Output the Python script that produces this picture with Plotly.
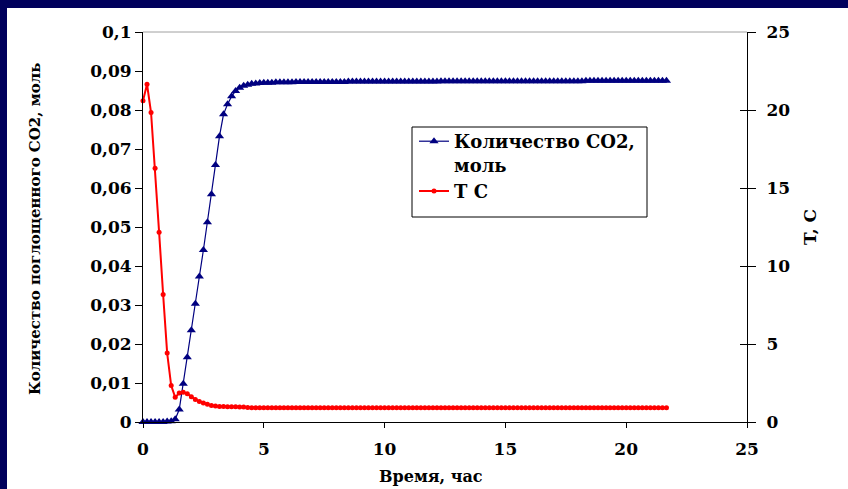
import plotly.graph_objects as go

# Sampling every 10 minutes, hours from start
step_minutes = 10
n_points = 131
time_h = [k * step_minutes / 60 for k in range(n_points)]

# Absorbed CO2, mol
co2_mol = [
    0.0, 0.0, 0.0, 0.0, 0.0, 0.0, 0.0001, 0.0002, 0.0007, 0.0032,
    0.0098, 0.0166, 0.0235, 0.0303, 0.0373, 0.0441, 0.0512, 0.0584, 0.0659, 0.0733,
    0.0789, 0.0815, 0.0835, 0.0849, 0.0857, 0.0862, 0.0865, 0.0867, 0.0868, 0.0869,
    0.0870, 0.0870, 0.0870, 0.0871, 0.0871, 0.0871, 0.0871, 0.0871, 0.0872, 0.0872,
    0.0872, 0.0872, 0.0872, 0.0872, 0.0872, 0.0872, 0.0872, 0.0872, 0.0872, 0.0872,
    0.0872, 0.0873, 0.0873, 0.0873, 0.0873, 0.0873, 0.0873, 0.0873, 0.0873, 0.0873,
    0.0873, 0.0873, 0.0873, 0.0873, 0.0873, 0.0873, 0.0873, 0.0873, 0.0873, 0.0873,
    0.0873, 0.0873, 0.0873, 0.0873, 0.0874, 0.0874, 0.0874, 0.0874, 0.0874, 0.0874,
    0.0874, 0.0874, 0.0874, 0.0874, 0.0874, 0.0874, 0.0874, 0.0874, 0.0874, 0.0874,
    0.0874, 0.0874, 0.0874, 0.0874, 0.0874, 0.0874, 0.0874, 0.0874, 0.0874, 0.0874,
    0.0874, 0.0874, 0.0874, 0.0874, 0.0874, 0.0874, 0.0874, 0.0874, 0.0874, 0.0874,
    0.0875, 0.0875, 0.0875, 0.0875, 0.0875, 0.0875, 0.0875, 0.0875, 0.0875, 0.0875,
    0.0875, 0.0875, 0.0875, 0.0875, 0.0875, 0.0875, 0.0875, 0.0875, 0.0875, 0.0875,
    0.0875,
]

# Temperature, C
temp_c = [
    20.6, 21.65, 19.84, 16.26, 12.16, 8.17, 4.42, 2.34, 1.58, 1.86,
    1.90, 1.81, 1.62, 1.45, 1.32, 1.22, 1.13, 1.06, 1.02, 1.00,
    0.99, 0.98, 0.97, 0.97, 0.96, 0.96, 0.93, 0.92, 0.92, 0.92,
    0.92, 0.92, 0.92, 0.92, 0.92, 0.92, 0.92, 0.92, 0.92, 0.92,
    0.92, 0.92, 0.92, 0.92, 0.92, 0.92, 0.92, 0.92, 0.92, 0.92,
    0.92, 0.92, 0.92, 0.92, 0.92, 0.92, 0.91, 0.92, 0.92, 0.92,
    0.92, 0.92, 0.92, 0.92, 0.92, 0.92, 0.92, 0.92, 0.92, 0.92,
    0.92, 0.92, 0.92, 0.92, 0.92, 0.92, 0.91, 0.91, 0.91, 0.91,
    0.91, 0.91, 0.91, 0.91, 0.91, 0.91, 0.91, 0.91, 0.91, 0.91,
    0.91, 0.91, 0.91, 0.91, 0.91, 0.91, 0.91, 0.91, 0.91, 0.91,
    0.91, 0.91, 0.91, 0.91, 0.91, 0.91, 0.91, 0.91, 0.91, 0.91,
    0.91, 0.91, 0.91, 0.91, 0.91, 0.91, 0.91, 0.91, 0.91, 0.91,
    0.91, 0.91, 0.91, 0.91, 0.91, 0.91, 0.91, 0.91, 0.91, 0.91,
    0.91,
]

x_ticks = [0, 5, 10, 15, 20, 25]
y_ticks = [0, 0.01, 0.02, 0.03, 0.04, 0.05, 0.06, 0.07, 0.08, 0.09, 0.1]
y_tick_labels = ["0", "0,01", "0,02", "0,03", "0,04", "0,05",
                 "0,06", "0,07", "0,08", "0,09", "0,1"]
t_ticks = [0, 5, 10, 15, 20, 25]

W, H = 848, 489
M_L, M_R, M_T, M_B = 143, 101, 32, 67
PW = W - M_L - M_R
PH = H - M_T - M_B

def px_x(p):
    return (p - M_L) / PW

def px_y(p):
    return (H - M_B - p) / PH

NAVY = "#000080"
FRAME = "#00005c"
TICK_FONT = dict(family="DejaVu Serif", size=17, color="black", weight="bold")

fig = go.Figure()
fig.add_trace(go.Scatter(
    x=time_h, y=co2_mol, name="Количество CO2,<br>моль",
    mode="lines+markers", yaxis="y",
    line=dict(color=NAVY, width=1.2),
    marker=dict(symbol="triangle-up", size=8, color=NAVY),
    cliponaxis=False,
))
fig.add_trace(go.Scatter(
    x=time_h, y=temp_c, name="T C",
    mode="lines+markers", yaxis="y2",
    line=dict(color="#ff0000", width=2),
    marker=dict(symbol="circle", size=5, color="#ff0000"),
    cliponaxis=False,
))

fig.update_layout(
    width=W, height=H,
    margin=dict(l=M_L, r=M_R, t=M_T, b=M_B),
    paper_bgcolor="white", plot_bgcolor="white",
    showlegend=True,
    legend=dict(
        x=px_x(414), y=px_y(123), xanchor="left", yanchor="top",
        bgcolor="rgba(0,0,0,0)", borderwidth=0, valign="top",
        font=dict(family="DejaVu Serif", size=18, color="black", weight="bold"),
        tracegroupgap=0,
    ),
    xaxis=dict(
        range=[0, 25], tickvals=x_ticks, ticktext=[str(v) for v in x_ticks],
        showgrid=False, zeroline=False, showline=True, linecolor="black",
        linewidth=1, ticks="outside", ticklen=5, tickcolor="black",
        tickfont=TICK_FONT, ticklabelstandoff=7,
    ),
    yaxis=dict(
        range=[0, 0.1], tickvals=y_ticks, ticktext=y_tick_labels,
        showgrid=False, zeroline=False, showline=True, linecolor="black",
        linewidth=1, ticks="outside", ticklen=7, tickcolor="black",
        tickfont=TICK_FONT,
    ),
    yaxis2=dict(
        range=[0, 25], tickvals=t_ticks, ticktext=[str(v) for v in t_ticks],
        overlaying="y", side="right", anchor="x",
        showgrid=False, zeroline=False, showline=True, linecolor="black",
        linewidth=1, ticks="outside", ticklen=8, tickcolor="black",
        tickfont=TICK_FONT, ticklabelstandoff=7,
    ),
    yaxis3=dict(
        range=[0, 25], tickvals=t_ticks, overlaying="y", side="right",
        anchor="x", showgrid=False, zeroline=False, showline=False,
        ticks="inside", ticklen=7, tickcolor="black", showticklabels=False,
    ),
    shapes=[
        # plot-area top border
        dict(type="line", xref="paper", yref="paper", x0=0, x1=1, y0=1, y1=1,
             line=dict(color="#a0a0a0", width=1)),
        # legend box
        dict(type="rect", xref="paper", yref="paper",
             x0=px_x(412), x1=px_x(647), y0=px_y(217), y1=px_y(127),
             line=dict(color="black", width=1), fillcolor="rgba(0,0,0,0)"),
        # dark frame along top and left edges
        dict(type="rect", xref="paper", yref="paper",
             x0=px_x(-5), x1=px_x(W + 5), y0=px_y(8), y1=px_y(-5),
             line=dict(width=0), fillcolor=FRAME, layer="below"),
        dict(type="rect", xref="paper", yref="paper",
             x0=px_x(-5), x1=px_x(7), y0=px_y(H + 5), y1=px_y(-5),
             line=dict(width=0), fillcolor=FRAME, layer="below"),
    ],
    annotations=[
        dict(text="Количество поглощенного CO2, моль", xref="paper", yref="paper",
             x=px_x(35), y=px_y(229), textangle=-90, showarrow=False,
             xanchor="center", yanchor="middle",
             font=dict(family="DejaVu Serif", size=15, color="black", weight="bold")),
        dict(text="T, C", xref="paper", yref="paper",
             x=px_x(810), y=px_y(227), textangle=-90, showarrow=False,
             xanchor="center", yanchor="middle",
             font=dict(family="DejaVu Serif", size=17, color="black", weight="bold")),
        dict(text="Время, час", xref="paper", yref="paper",
             x=px_x(431), y=px_y(476), showarrow=False,
             xanchor="center", yanchor="middle",
             font=dict(family="DejaVu Serif", size=16, color="black", weight="bold")),
    ],
)

fig.add_trace(go.Scatter(x=[None], y=[None], yaxis="y3", showlegend=False,
                         hoverinfo="skip"))

fig.write_html("out.html")
